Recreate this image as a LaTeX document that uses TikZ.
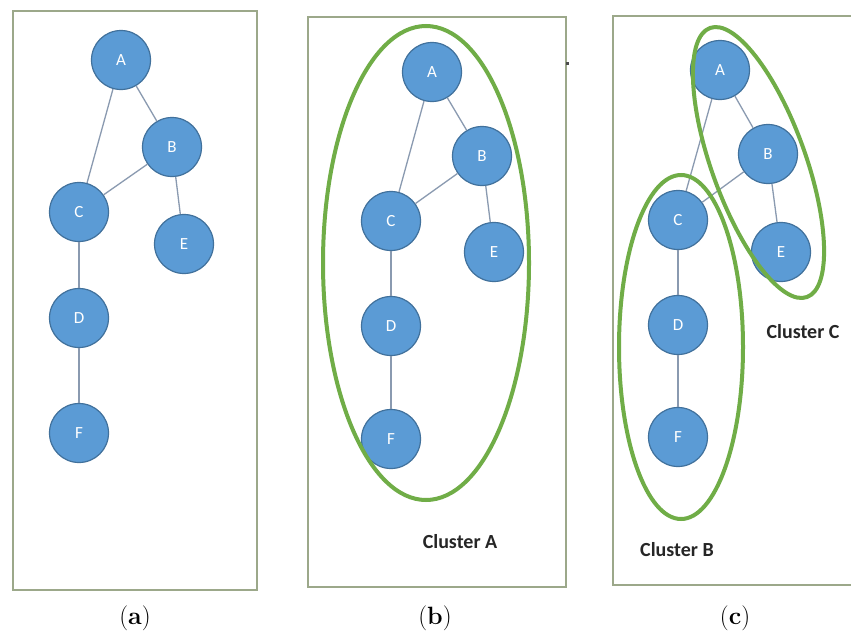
\documentclass[tikz,border=0pt]{standalone}
\usepackage{fontspec}
\newfontfamily\calib{Carlito}
\definecolor{nodeblue}{HTML}{5B9BD5}
\definecolor{nodeborder}{HTML}{41719C}
\definecolor{edgegray}{HTML}{8A9AB0}
\definecolor{panelgray}{HTML}{9CA88A}
\definecolor{clustergreen}{HTML}{70AD47}
\tikzset{
  gnode/.style={circle, minimum size=59pt, inner sep=0pt, fill=nodeblue, draw=nodeborder,
    line width=1.2pt, text=white, font=\calib\fontsize{17}{17}\selectfont},
  gedge/.style={draw=edgegray, line width=1.3pt},
  panel/.style={draw=panelgray, line width=1.5pt},
  cluster/.style={draw=clustergreen, line width=4pt},
  clabel/.style={font=\calib\bfseries\fontsize{20}{20}\selectfont, text=black!85},
  sublabel/.style={font=\fontsize{25}{25}\selectfont}
}
\begin{document}
\begin{tikzpicture}[x=1pt,y=-1pt]
\path[use as bounding box, fill=white] (0,0) rectangle (851,635);
% panels
\draw[panel] (13,11) rectangle (257,590);
\draw[panel] (308,17) rectangle (566,587);
\draw[panel] (853,16) -- (613,16) -- (613,585) -- (853,585);
\fill[black!70] (566,62) rectangle (569,65);
% panel a
\node[gnode] (a1) at (121,60) {A};
\node[gnode] (b1) at (172,147) {B};
\node[gnode] (c1) at (79,212) {C};
\node[gnode] (e1) at (184,244) {E};
\node[gnode] (d1) at (79,318) {D};
\node[gnode] (f1) at (79,433) {F};
\draw[gedge] (a1) -- (b1);
\draw[gedge] (a1) -- (c1);
\draw[gedge] (b1) -- (c1);
\draw[gedge] (b1) -- (e1);
\draw[gedge] (c1) -- (d1);
\draw[gedge] (d1) -- (f1);
% panel b
\node[gnode] (a2) at (432,72) {A};
\node[gnode] (b2) at (482,156) {B};
\node[gnode] (c2) at (391,221) {C};
\node[gnode] (e2) at (494,252) {E};
\node[gnode] (d2) at (391,326) {D};
\node[gnode] (f2) at (391,439) {F};
\draw[gedge] (a2) -- (b2);
\draw[gedge] (a2) -- (c2);
\draw[gedge] (b2) -- (c2);
\draw[gedge] (b2) -- (e2);
\draw[gedge] (c2) -- (d2);
\draw[gedge] (d2) -- (f2);
\draw[cluster] (426,263) ellipse [x radius=103pt, y radius=237pt];
\node[clabel] (cla) at (460,542) {Cluster A};
% panel c
\node[gnode] (a3) at (720,70) {A};
\node[gnode] (b3) at (768,154) {B};
\node[gnode] (c3) at (678,220) {C};
\node[gnode] (e3) at (781,252) {E};
\node[gnode] (d3) at (678,325) {D};
\node[gnode] (f3) at (678,437) {F};
\draw[gedge] (a3) -- (b3);
\draw[gedge] (a3) -- (c3);
\draw[gedge] (b3) -- (c3);
\draw[gedge] (b3) -- (e3);
\draw[gedge] (c3) -- (d3);
\draw[gedge] (d3) -- (f3);
\draw[cluster] (681,347) ellipse [x radius=62pt, y radius=172pt];
\draw[cluster, rotate around={19.8:(758.5,162.5)}] (758.5,162.5) ellipse [x radius=47pt, y radius=143pt];
\node[clabel] (clc) at (803,332) {Cluster C};
\node[clabel] (clb) at (677,550) {Cluster B};
% sub labels
\node[sublabel] (la) at (135,618) {(\textbf{a})};
\node[sublabel] (lb) at (435,618) {(\textbf{b})};
\node[sublabel] (lc) at (735,618) {(\textbf{c})};
\end{tikzpicture}
\end{document}
